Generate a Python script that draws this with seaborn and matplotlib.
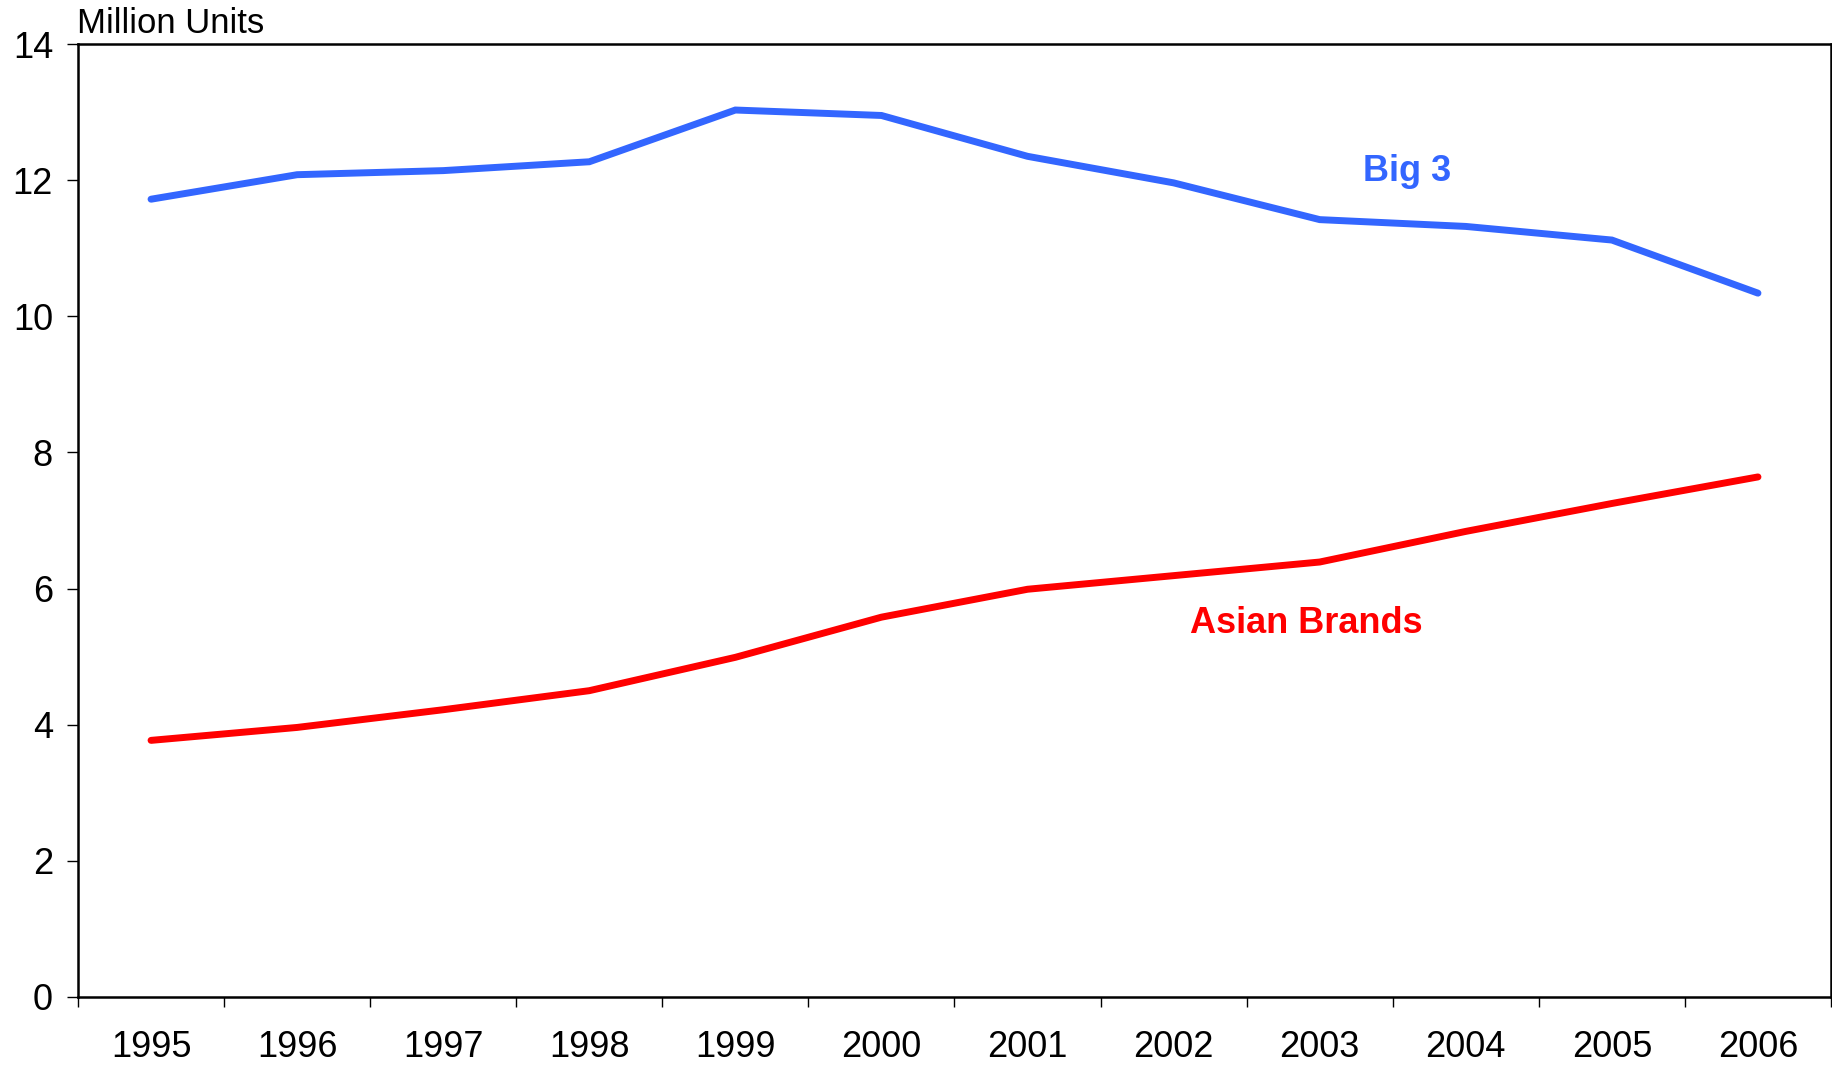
import matplotlib
matplotlib.use("Agg")
import matplotlib.pyplot as plt
import seaborn as sns
import pandas as pd
from matplotlib.ticker import FixedLocator

# Annual unit sales, million units
years = ["1995", "1996", "1997", "1998", "1999", "2000",
         "2001", "2002", "2003", "2004", "2005", "2006"]
big3 = [11.72, 12.08, 12.14, 12.27, 13.03, 12.95,
        12.35, 11.96, 11.42, 11.32, 11.12, 10.34]
asian = [3.77, 3.96, 4.22, 4.50, 4.99, 5.58,
         5.99, 6.19, 6.39, 6.84, 7.25, 7.64]
y_ticks = [0, 2, 4, 6, 8, 10, 12, 14]

sns.set_theme(style="white")
plt.rcParams["font.family"] = ["Liberation Sans", "DejaVu Sans"]

pos = list(range(len(years)))
df = pd.DataFrame({
    "pos": pos * 2,
    "units": big3 + asian,
    "group": ["Big 3"] * len(years) + ["Asian Brands"] * len(years),
})

fig = plt.figure(figsize=(18.32, 10.69), dpi=100)
ax = fig.add_axes([78 / 1832, 72 / 1069, 1753 / 1832, 953 / 1069])

palette = {"Big 3": "#3366FF", "Asian Brands": "#FF0000"}
sns.lineplot(data=df, x="pos", y="units", hue="group", palette=palette,
             linewidth=5.0, legend=False, ax=ax)
for line in ax.get_lines():
    line.set_solid_capstyle("round")
    line.set_solid_joinstyle("miter")

ax.set_xlim(-0.5, len(years) - 0.5)
ax.set_ylim(0, 14)
ax.set_xlabel("")
ax.set_ylabel("")

# category boundaries carry the tick marks, centres carry the labels
ax.xaxis.set_major_locator(FixedLocator([p - 0.5 for p in pos] + [len(years) - 0.5]))
ax.xaxis.set_major_formatter(plt.NullFormatter())
ax.xaxis.set_minor_locator(FixedLocator(pos))
ax.set_xticklabels(years, minor=True)
ax.tick_params(axis="x", which="major", direction="out", length=7.5, width=1.0,
               color="black", bottom=True)
ax.tick_params(axis="x", which="minor", length=0, pad=24, labelsize=26,
               labelcolor="black", bottom=True)

ax.set_yticks(y_ticks)
ax.set_yticklabels([str(v) for v in y_ticks])
ax.tick_params(axis="y", direction="out", length=8, width=1.0, color="black",
               left=True, pad=10, labelsize=26, labelcolor="black")

for side in ["left", "right", "top", "bottom"]:
    ax.spines[side].set_visible(True)
    ax.spines[side].set_color("black")
    ax.spines[side].set_linewidth(1.8)

ax.text(8.60, 11.99, "Big 3", color="#3366FF", fontsize=26, fontweight="bold",
        ha="center", va="baseline")
ax.text(7.91, 5.35, "Asian Brands", color="#FF0000", fontsize=26,
        fontweight="bold", ha="center", va="baseline")

fig.text(77 / 1832, 1 - 33 / 1069, "Million Units", fontsize=25,
         color="black", ha="left", va="baseline")

fig.savefig("out.png", dpi=100, facecolor="white")
